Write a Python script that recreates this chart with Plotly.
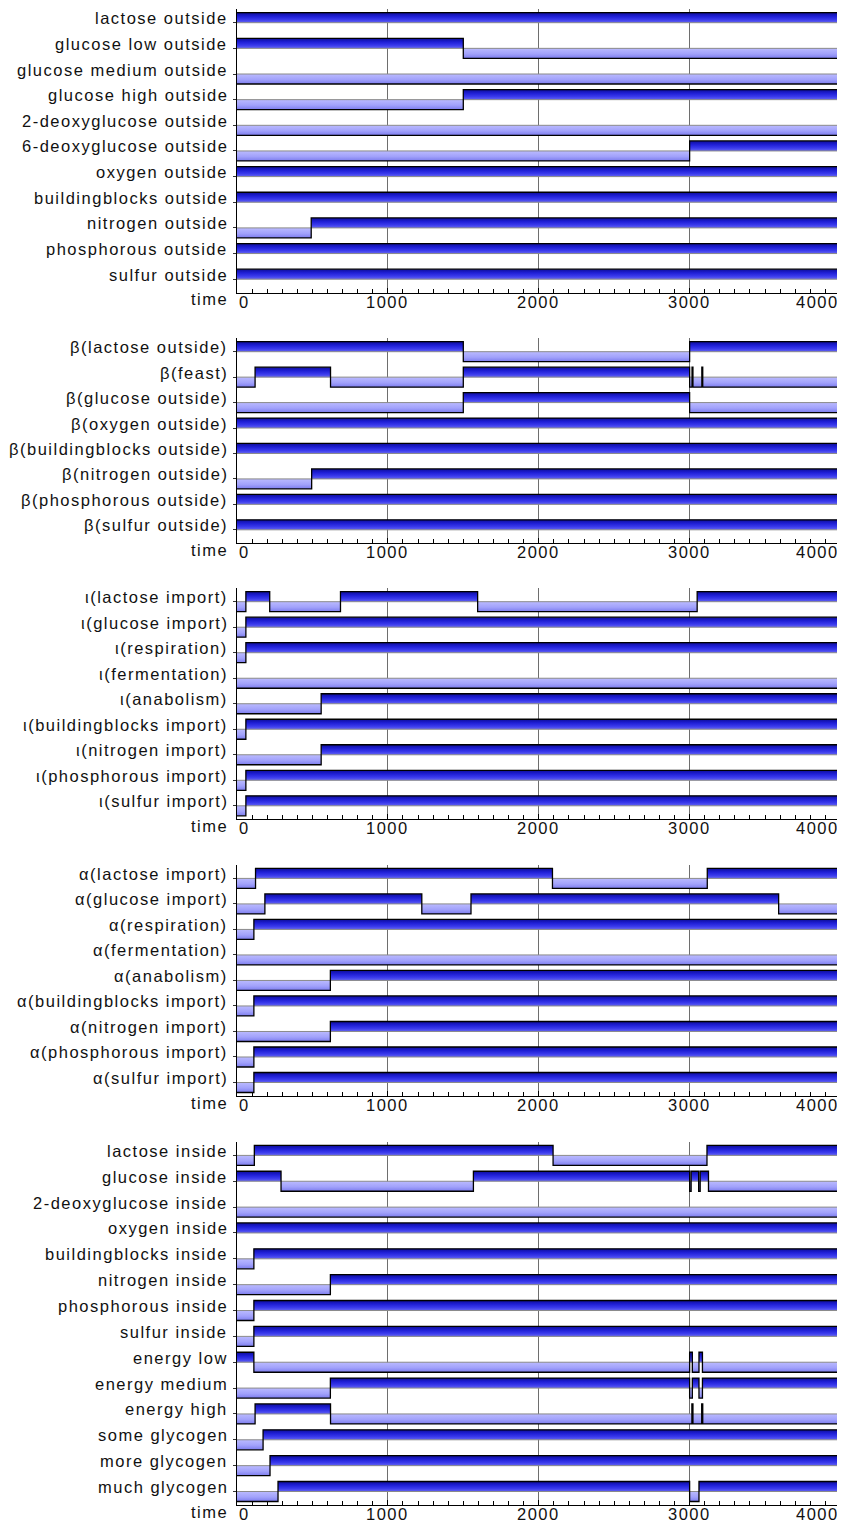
import plotly.graph_objects as go

T_END = 4000

# ---------------- data ----------------
P1_LABELS = ["lactose outside", "glucose low outside", "glucose medium outside",
             "glucose high outside", "2-deoxyglucose outside", "6-deoxyglucose outside",
             "oxygen outside", "buildingblocks outside", "nitrogen outside",
             "phosphorous outside", "sulfur outside"]
P1_INIT = [1, 1, 0, 0, 0, 0, 1, 1, 0, 1, 1]
P1_SWITCH = [[], [1500], [], [1500], [], [3000], [], [], [492], [], []]

P2_LABELS = ["β(lactose outside)", "β(feast)", "β(glucose outside)", "β(oxygen outside)",
             "β(buildingblocks outside)", "β(nitrogen outside)", "β(phosphorous outside)",
             "β(sulfur outside)"]
P2_INIT = [1, 0, 0, 1, 1, 0, 1, 1]
P2_SWITCH = [[1500, 3000], [120, 620, 1500, 3000, 3016, 3022, 3081, 3087],
             [1500, 3000], [], [], [495], [], []]

P3_LABELS = ["ι(lactose import)", "ι(glucose import)", "ι(respiration)", "ι(fermentation)",
             "ι(anabolism)", "ι(buildingblocks import)", "ι(nitrogen import)",
             "ι(phosphorous import)", "ι(sulfur import)"]
P3_INIT = [0, 0, 0, 0, 0, 0, 0, 0, 0]
P3_SWITCH = [[59, 217, 686, 1595, 3050], [59], [59], [], [558], [59], [558], [59], [59]]

P4_LABELS = ["α(lactose import)", "α(glucose import)", "α(respiration)", "α(fermentation)",
             "α(anabolism)", "α(buildingblocks import)", "α(nitrogen import)",
             "α(phosphorous import)", "α(sulfur import)"]
P4_INIT = [0, 0, 0, 0, 0, 0, 0, 0, 0]
P4_SWITCH = [[123, 2091, 3117], [185, 1225, 1551, 3590], [112], [], [619], [112], [619],
             [112], [112]]

P5_LABELS = ["lactose inside", "glucose inside", "2-deoxyglucose inside", "oxygen inside",
             "buildingblocks inside", "nitrogen inside", "phosphorous inside", "sulfur inside",
             "energy low", "energy medium", "energy high", "some glycogen", "more glycogen",
             "much glycogen"]
P5_INIT = [0, 1, 0, 1, 0, 0, 0, 0, 1, 0, 0, 0, 0, 0]
P5_SWITCH = [[115, 2095, 3115], [292, 1567, 3000, 3010, 3060, 3070, 3125], [], [], [112],
             [619], [112], [112], [112, 3000, 3018, 3062, 3085],
             [619, 3000, 3018, 3062, 3085], [120, 620, 3015, 3022, 3080, 3087],
             [173], [219], [272, 3000, 3062]]

X_TICKS = [0, 1000, 2000, 3000, 4000]
X_TICK_TEXT = ["0", "1000", "2000", "3000", "4000"]

PANELS = [(P1_LABELS, P1_INIT, P1_SWITCH), (P2_LABELS, P2_INIT, P2_SWITCH),
          (P3_LABELS, P3_INIT, P3_SWITCH), (P4_LABELS, P4_INIT, P4_SWITCH),
          (P5_LABELS, P5_INIT, P5_SWITCH)]

# ---------------- layout constants (page pixels; page body has an 8px margin) ----------------
OFF = 8
W, H = 845 - OFF, 1526 - OFF
X0, X1 = 237.8 - OFF, 843.5 - OFF
PANEL_PX = [(9.3, 292.7), (338.3, 543.3), (588.3, 819.3), (865.0, 1096.0), (1142.0, 1505.0)]
PANEL_PX = [(a - OFF, b - OFF) for a, b in PANEL_PX]
LABEL_X = 230.5 - OFF
FONT = dict(family="Liberation Sans, Arial, Helvetica, sans-serif", size=16.5, color="#111111")
LS = "letter-spacing:1.5px"

HIGH_SCALE = [[0, "#6464f2"], [0.3, "#3a3aec"], [0.65, "#1e1ed4"], [1, "#0e0e98"]]
LOW_SCALE = [[0, "#7c7cee"], [0.45, "#a2a2fb"], [1, "#babaff"]]


def spaced(t):
    return f'<span style="{LS}">{t}</span>'


fig = go.Figure()
annotations = []
layout = dict(width=W, height=H, margin=dict(l=0, r=0, t=0, b=0),
              paper_bgcolor="white", plot_bgcolor="white", showlegend=False)

for p, (labels, inits, switches) in enumerate(PANELS, start=1):
    n = len(labels)
    top_px, bot_px = PANEL_PX[p - 1]
    s = (bot_px - top_px - 26.9) / (n - 1)
    y_lo = -(n - 1) - 13.5 / s
    y_hi = 13.4 / s
    h = 10.0 / s
    xa = f"x{p}" if p > 1 else "x"
    ya = f"y{p}" if p > 1 else "y"
    xkey = f"xaxis{p}" if p > 1 else "xaxis"
    ykey = f"yaxis{p}" if p > 1 else "yaxis"

    layout[xkey] = dict(domain=[X0 / W, X1 / W], range=[0, T_END], anchor=ya,
                        showline=True, linecolor="black", linewidth=1.3,
                        ticks="inside", ticklen=5, tickwidth=1, tickcolor="black",
                        tickmode="linear", tick0=0, dtick=1000,
                        showgrid=True, gridcolor="#6e6e6e", gridwidth=1.4,
                        showticklabels=False, zeroline=False, fixedrange=True,
                        minor=dict(dtick=100, ticks="inside", ticklen=4,
                                   tickcolor="black", showgrid=False))
    layout[ykey] = dict(domain=[1 - bot_px / H, 1 - top_px / H], range=[y_lo, y_hi],
                        anchor=xa, showline=True, linecolor="black", linewidth=1.3,
                        mirror="ticks", ticks="outside", ticklen=3, tickcolor="#333333",
                        tickvals=[-k for k in range(n)], showticklabels=False,
                        showgrid=False, zeroline=False, fixedrange=True)

    for k, (lab, init, sw) in enumerate(zip(labels, inits, switches)):
        base = -k
        bounds = [0] + list(sw) + [T_END]
        hx, hy, lx, ly = [], [], [], []
        state = init
        for t0, t1 in zip(bounds[:-1], bounds[1:]):
            if state:
                hx += [t0, t0, t1, t1, t0, None]
                hy += [base, base + h, base + h, base, base, None]
            else:
                lx += [t0, t0, t1, t1, t0, None]
                ly += [base, base - h, base - h, base, base, None]
            state = 1 - state
        if hx:
            fig.add_trace(go.Scatter(x=hx, y=hy, xaxis=xa, yaxis=ya, mode="none",
                                     fill="toself", hoverinfo="skip",
                                     fillgradient=dict(type="vertical", start=base,
                                                       stop=base + h,
                                                       colorscale=HIGH_SCALE)))
        if lx:
            fig.add_trace(go.Scatter(x=lx, y=ly, xaxis=xa, yaxis=ya, mode="none",
                                     fill="toself", hoverinfo="skip",
                                     fillgradient=dict(type="vertical", start=base - h,
                                                       stop=base,
                                                       colorscale=LOW_SCALE)))
        # gray baseline
        fig.add_trace(go.Scatter(x=[0, T_END], y=[base, base], xaxis=xa, yaxis=ya,
                                 mode="lines", line=dict(color="#8a8a8a", width=1),
                                 hoverinfo="skip"))
        # black step outline
        lvl = lambda st: base + h if st else base - h
        sx, sy = [0], [lvl(init)]
        state = init
        for t in sw:
            sx += [t, t]
            sy += [lvl(state), lvl(1 - state)]
            state = 1 - state
        sx.append(T_END)
        sy.append(lvl(state))
        fig.add_trace(go.Scatter(x=sx, y=sy, xaxis=xa, yaxis=ya, mode="lines",
                                 line=dict(color="black", width=1.3), hoverinfo="skip"))

        annotations.append(dict(text=spaced(lab), xref="paper", yref=ya, x=LABEL_X / W,
                                y=base, xanchor="right", yanchor="middle", yshift=4.5,
                                showarrow=False, font=FONT))

    annotations.append(dict(text=spaced("time"), xref="paper", yref=ya, x=LABEL_X / W,
                            y=y_lo, xanchor="right", yanchor="middle", yshift=-6.5,
                            showarrow=False, font=FONT))
    for i, (tv, tt) in enumerate(zip(X_TICKS, X_TICK_TEXT)):
        anc = "left" if i == 0 else ("right" if i == len(X_TICKS) - 1 else "center")
        annotations.append(dict(text=spaced(tt), xref=xa, yref=ya, x=tv, y=y_lo,
                                xanchor=anc, yanchor="middle", yshift=-9,
                                showarrow=False, font=FONT))

layout["annotations"] = annotations
fig.update_layout(**layout)
fig.write_html("out.html")
